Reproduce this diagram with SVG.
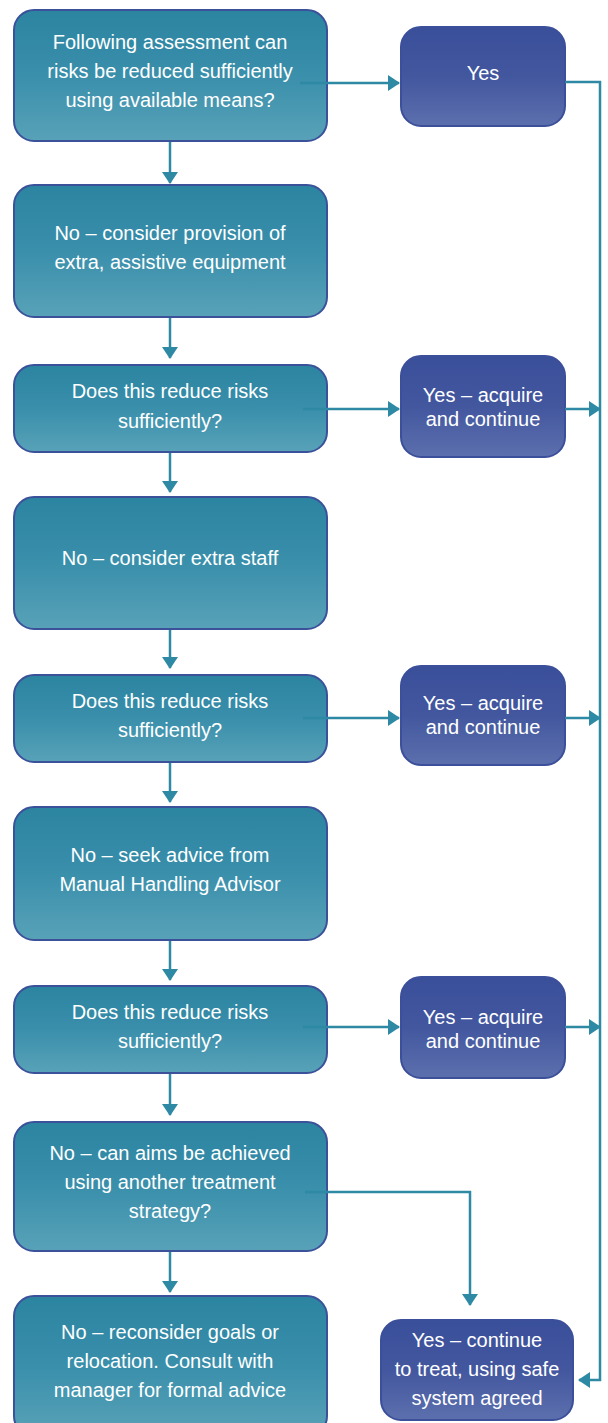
<svg xmlns="http://www.w3.org/2000/svg" width="608" height="1423" viewBox="0 0 608 1423">
<defs>
<linearGradient id="gt" x1="0" y1="0" x2="0" y2="1"><stop offset="0" stop-color="#2b84a0"/><stop offset="0.5" stop-color="#3a8fab"/><stop offset="1" stop-color="#58a2b8"/></linearGradient>
<linearGradient id="gb" x1="0" y1="0" x2="0" y2="1"><stop offset="0" stop-color="#3a4f9a"/><stop offset="0.5" stop-color="#43579f"/><stop offset="1" stop-color="#5c6fad"/></linearGradient>
<marker id="ah" viewBox="0 0 12 16" refX="11" refY="8" markerWidth="12" markerHeight="16" markerUnits="userSpaceOnUse" orient="auto"><path d="M0,0 L12,8 L0,16 Z" fill="#2e89a4"/></marker>
</defs>
<style>
.t rect{fill:url(#gt);stroke:#3b529b;stroke-width:2}
.b rect{fill:url(#gb);stroke:#3b4f9b;stroke-width:2}
text{font-family:"Liberation Sans","Open Sans",sans-serif;font-size:20px;fill:#fff;text-anchor:middle}
.c path{fill:none;stroke:#2e89a4;stroke-width:2.5;marker-end:url(#ah)}
</style>
<g id="n1" class="t"><rect x="14" y="10" width="313" height="131" rx="20"/><text x="170" y="49">Following assessment can</text><text x="170" y="78">risks be reduced sufficiently</text><text x="170" y="107">using available means?</text></g>
<g id="y1" class="b"><rect x="401" y="27" width="164" height="99" rx="20"/><text x="483" y="80">Yes</text></g>
<g id="n2" class="t"><rect x="14" y="185" width="313" height="132" rx="20"/><text x="170" y="240">No – consider provision of</text><text x="170" y="269">extra, assistive equipment</text></g>
<g id="n3" class="t"><rect x="14" y="365" width="313" height="87" rx="20"/><text x="170" y="398">Does this reduce risks</text><text x="170" y="428">sufficiently?</text></g>
<g id="y2" class="b"><rect x="401" y="356" width="164" height="101" rx="20"/><text x="483" y="402">Yes – acquire</text><text x="483" y="426">and continue</text></g>
<g id="n4" class="t"><rect x="14" y="497" width="313" height="132" rx="20"/><text x="170" y="565">No – consider extra staff</text></g>
<g id="n5" class="t"><rect x="14" y="675" width="313" height="87" rx="20"/><text x="170" y="708">Does this reduce risks</text><text x="170" y="737">sufficiently?</text></g>
<g id="y3" class="b"><rect x="401" y="666" width="164" height="99" rx="20"/><text x="483" y="710">Yes – acquire</text><text x="483" y="734">and continue</text></g>
<g id="n6" class="t"><rect x="14" y="807" width="313" height="133" rx="20"/><text x="170" y="862">No – seek advice from</text><text x="170" y="891">Manual Handling Advisor</text></g>
<g id="n7" class="t"><rect x="14" y="986" width="313" height="87" rx="20"/><text x="170" y="1019">Does this reduce risks</text><text x="170" y="1048">sufficiently?</text></g>
<g id="y4" class="b"><rect x="401" y="977" width="164" height="101" rx="20"/><text x="483" y="1024">Yes – acquire</text><text x="483" y="1048">and continue</text></g>
<g id="n8" class="t"><rect x="14" y="1122" width="313" height="129" rx="20"/><text x="170" y="1160">No – can aims be achieved</text><text x="170" y="1189">using another treatment</text><text x="170" y="1218">strategy?</text></g>
<g id="n9" class="t"><rect x="14" y="1296" width="313" height="140" rx="20"/><text x="170" y="1339">No – reconsider goals or</text><text x="170" y="1368">relocation. Consult with</text><text x="170" y="1397">manager for formal advice</text></g>
<g id="y5" class="b"><rect x="381" y="1320" width="192" height="100" rx="20"/><text x="477" y="1347">Yes – continue</text><text x="477" y="1376">to treat, using safe</text><text x="477" y="1405">system agreed</text></g>
<g class="c" id="connectors">
<path d="M300,83 H399"/>
<path d="M565,82 H600 V1380 H579"/>
<path d="M303,409 H399"/>
<path d="M565,409 H600"/>
<path d="M303,718 H399"/>
<path d="M565,718 H600"/>
<path d="M303,1027 H399"/>
<path d="M565,1027 H600"/>
<path d="M305,1192 H470 V1305"/>
<path d="M170,142 V183"/>
<path d="M170,318 V358"/>
<path d="M170,453 V492"/>
<path d="M170,630 V668"/>
<path d="M170,763 V802"/>
<path d="M170,941 V980"/>
<path d="M170,1074 V1115"/>
<path d="M170,1252 V1292"/>
</g>
</svg>
